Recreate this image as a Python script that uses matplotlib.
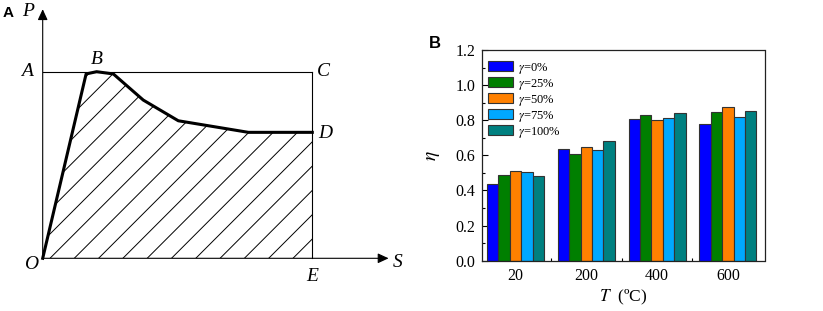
import numpy as np
import matplotlib
matplotlib.use("Agg")
import matplotlib.pyplot as plt
from matplotlib.patches import Polygon
from matplotlib.ticker import MultipleLocator

# ---------------- data ----------------
# Panel A: schematic load (P) - displacement (S) curve, normalised (E=1, A=1)
curve_s = [0.0, 0.161, 0.200, 0.262, 0.373, 0.503, 0.763, 1.0]
curve_p = [0.0, 0.988, 1.000, 0.988, 0.848, 0.737, 0.675, 0.675]

# Panel B: eta vs temperature for several gamma
temps = ["20", "200", "400", "600"]
series_labels = [r"$\gamma$=0%", r"$\gamma$=25%", r"$\gamma$=50%",
                 r"$\gamma$=75%", r"$\gamma$=100%"]
eta_g0 = [0.435, 0.634, 0.809, 0.780]
eta_g25 = [0.486, 0.608, 0.831, 0.847]
eta_g50 = [0.513, 0.646, 0.800, 0.877]
eta_g75 = [0.505, 0.629, 0.814, 0.820]
eta_g100 = [0.484, 0.683, 0.839, 0.853]
series = [eta_g0, eta_g25, eta_g50, eta_g75, eta_g100]
colors = ["#0000FF", "#007F00", "#FF8000", "#00A8FF", "#008080"]

# ---------------- figure ----------------
W, H = 823, 311
plt.rcParams["font.family"] = ["Liberation Serif", "DejaVu Serif"]
plt.rcParams["mathtext.fontset"] = "stix"
fig = plt.figure(figsize=(W / 100, H / 100), dpi=100)

def fx(px):
    return px / W

def fy(py):
    return 1 - py / H

# ---------------- Panel A ----------------
x0, x1 = 42.7, 312.3
y0, y1 = 258.3, 71.7
axA = fig.add_axes([fx(x0), fy(y0), (x1 - x0) / W, (y0 - y1) / H])
axA.set_xlim(0, 1)
axA.set_ylim(0, 1)
axA.axis("off")

lw_thin = 0.8
axA.annotate("", xy=(0, 1.335), xytext=(0, 0), xycoords="data",
             arrowprops=dict(arrowstyle="-|>,head_length=0.65,head_width=0.3",
                             lw=lw_thin, color="black", shrinkA=0, shrinkB=0),
             annotation_clip=False)
axA.annotate("", xy=(1.283, 0), xytext=(0, 0), xycoords="data",
             arrowprops=dict(arrowstyle="-|>,head_length=0.65,head_width=0.3",
                             lw=lw_thin, color="black", shrinkA=0, shrinkB=0),
             annotation_clip=False)
axA.plot([0, 1], [1, 1], color="black", lw=lw_thin, clip_on=False)
axA.plot([1, 1], [1, 0], color="black", lw=lw_thin, clip_on=False)

poly_pts = list(zip(curve_s, curve_p)) + [(1.0, 0.0)]
region = Polygon(poly_pts, closed=True, facecolor="none", edgecolor="none")
axA.add_patch(region)
slope = (x1 - x0) / (y0 - y1)  # 45 degrees in pixel space
step = 24.3 / (x1 - x0)
for c in np.arange(0.027 - 12 * step, 1.05, step):
    ln, = axA.plot([c, c + 2.0], [0, 2.0 * slope], color="black", lw=0.7)
    ln.set_clip_path(region)

axA.plot(curve_s, curve_p, color="black", lw=2.2, solid_joinstyle="round",
         clip_on=False)

lab_kw = dict(fontsize=14, fontstyle="italic", ha="center", va="center")
axA.text(-0.055, 1.32, "P", **lab_kw)
axA.text(-0.06, 1.0, "A", **lab_kw)
axA.text(0.20, 1.068, "B", **lab_kw)
axA.text(1.04, 1.0, "C", **lab_kw)
axA.text(1.047, 0.671, "D", **lab_kw)
axA.text(1.0, -0.10, "E", **lab_kw)
axA.text(-0.042, -0.035, "O", **lab_kw)
axA.text(1.316, -0.02, "S", **lab_kw)

fig.text(fx(8), fy(13), "A", fontsize=11, fontweight="bold",
         family=["Liberation Sans"], ha="center", va="center")

# ---------------- Panel B ----------------
bl, br, bt, bb = 482.3, 764.5, 50.0, 260.7
axB = fig.add_axes([fx(bl), fy(bb), (br - bl) / W, (bb - bt) / H])
x = np.arange(len(temps))
bw = 0.161
for j, (vals, col, lab) in enumerate(zip(series, colors, series_labels)):
    axB.bar(x + (j - 2) * bw, vals, width=bw, color=col, edgecolor="#333333",
            linewidth=0.8, label=lab, zorder=2)

axB.set_xlim(-0.469, 3.517)
axB.set_ylim(0, 1.2)
axB.set_xticks(x)
axB.set_xticklabels(temps)
axB.set_xticks(x[:-1] + 0.5, minor=True)
axB.yaxis.set_major_locator(MultipleLocator(0.2))
axB.yaxis.set_minor_locator(MultipleLocator(0.1))
axB.yaxis.set_major_formatter(matplotlib.ticker.FormatStrFormatter("%.1f"))
axB.tick_params(axis="both", which="major", direction="in", length=4,
                width=0.8, labelsize=11.5, pad=5)
axB.tick_params(axis="both", which="minor", direction="in", length=2,
                width=0.8)
for sp in axB.spines.values():
    sp.set_linewidth(0.9)
    sp.set_color("#222222")

axB.set_xlabel(r"$T$  (ºC)", fontsize=12.5, labelpad=3)
axB.set_ylabel(r"$\eta$", fontsize=14, labelpad=10)

leg = axB.legend(loc="upper left", bbox_to_anchor=(0.021, 0.95),
                 frameon=False, fontsize=9, handlelength=2.0,
                 handleheight=0.9, handletextpad=0.35, labelspacing=0.08,
                 borderpad=0, borderaxespad=0)

fig.text(fx(435), fy(44), "B", fontsize=12, fontweight="bold",
         family=["Liberation Sans"], ha="center", va="center")

fig.savefig("out.png", dpi=100)
